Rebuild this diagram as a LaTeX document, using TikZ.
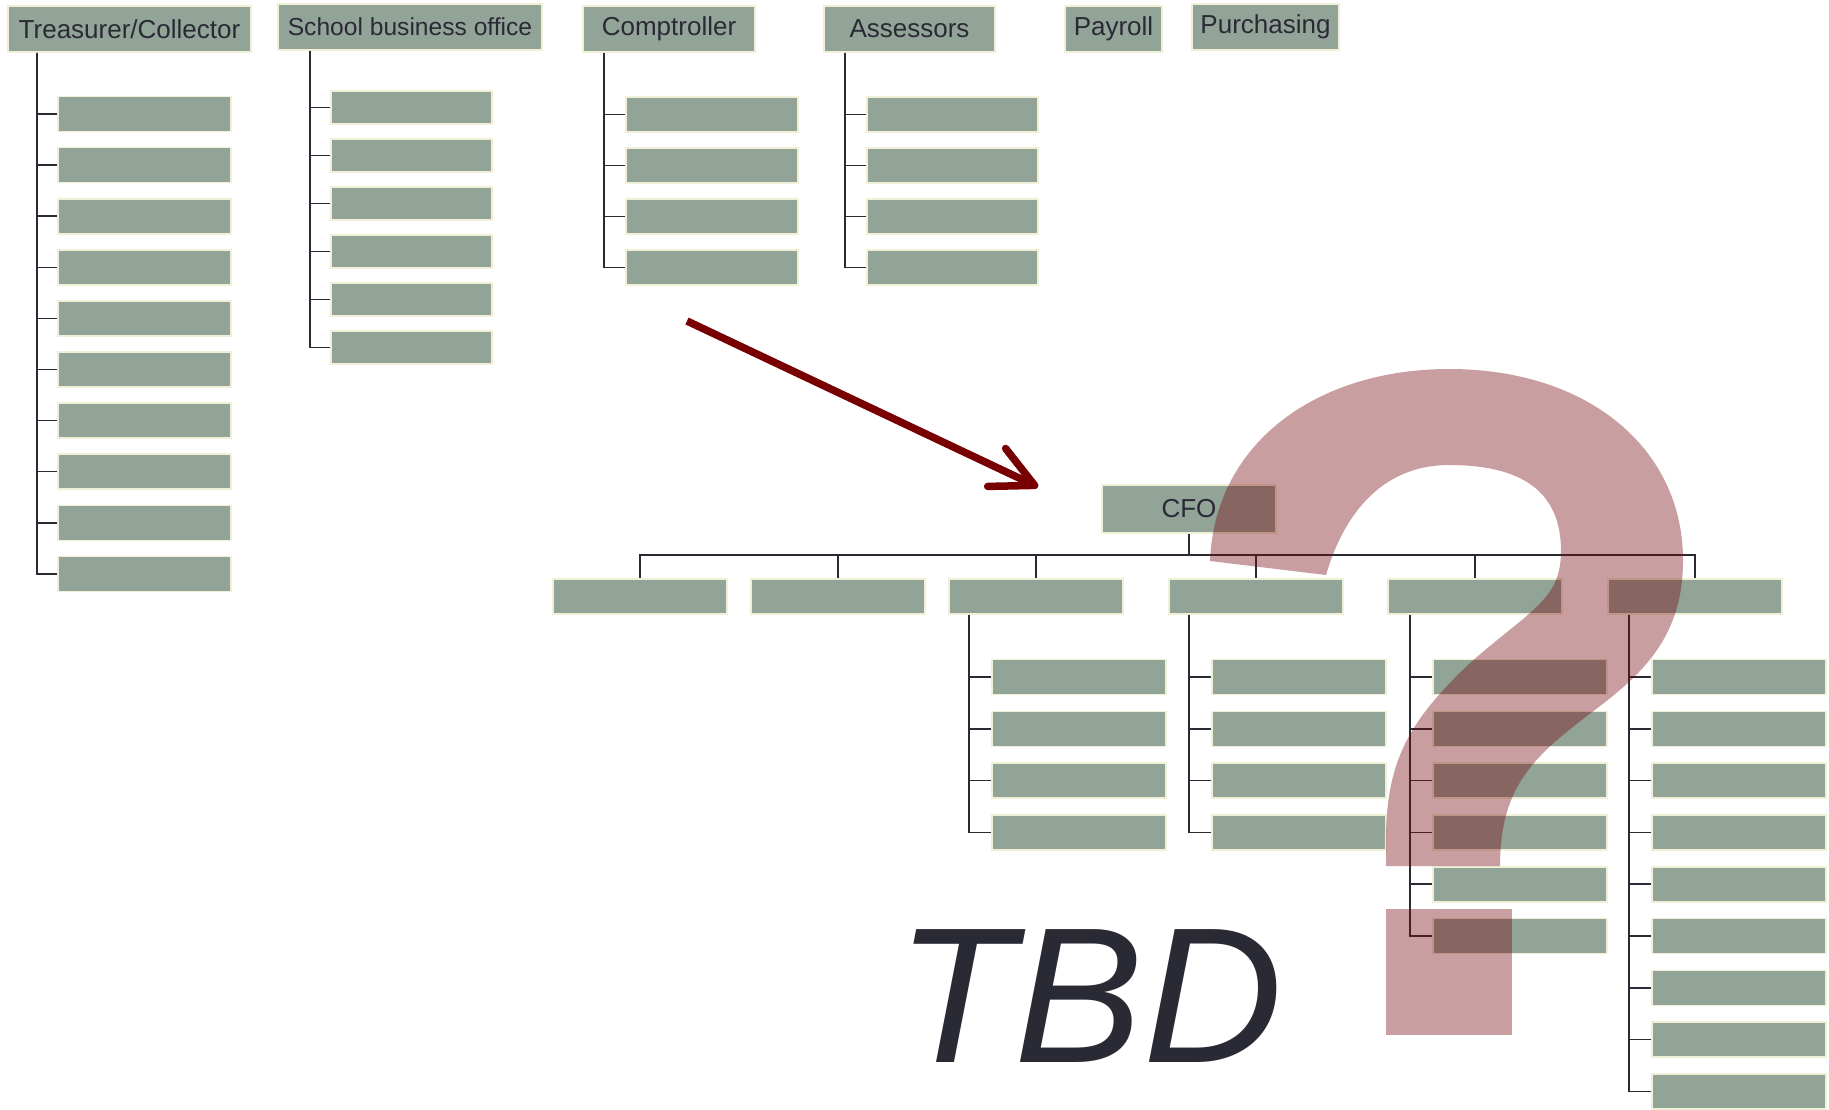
\documentclass[tikz,border=0pt]{standalone}
\usepackage{fontspec}
\setmainfont{Liberation Sans}
\usepackage{tikz}
\usetikzlibrary{arrows.meta}
\definecolor{boxgreen}{RGB}{146,163,152}
\definecolor{boxedge}{RGB}{240,240,214}
\definecolor{inkdark}{RGB}{42,42,53}
\definecolor{arrowred}{RGB}{120,0,0}
\definecolor{quesred}{RGB}{120,12,18}
\tikzstyle{unit} = [rectangle, draw=boxedge, fill=boxgreen, line width=0.8pt,
    text=inkdark, font=\fontsize{13}{15}\selectfont, inner sep=0pt,
    minimum width=87pt, minimum height=17.5pt]
\tikzstyle{head} = [unit, minimum height=23pt]
\tikzstyle{line} = [draw=inkdark, line width=0.75pt]

\begin{document}
\begin{tikzpicture}[x=0.5pt, y=-0.5pt]
    \useasboundingbox (0,0) rectangle (1829,1109);
    % Place nodes
    \node [head, minimum width=121.5pt] (treas) at (129.5,29) {Treasurer/Collector};
    \node [head, minimum width=132pt, font=\fontsize{12.3}{14}\selectfont] (school) at (410,27) {School business office};
    \node [head, minimum width=86pt] (compt) at (669,29) {Comptroller};
    \node [head, minimum width=85.5pt] (assess) at (909.5,29) {Assessors};
    \node [head, minimum width=48.5pt] (payroll) at (1113.5,29) {Payroll};
    \node [head, minimum width=73.5pt] (purch) at (1265.5,27) {Purchasing};
    \node [head, minimum width=87pt, minimum height=24pt] (cfo) at (1189,509) {CFO};

    \coordinate (treasspine) at (37,0);
    \coordinate (schoolspine) at (310,0);
    \coordinate (comptspine) at (604,0);
    \coordinate (assessspine) at (845,0);
    \coordinate (bus) at (1189,555);

    % Draw edges
    \foreach \i in {1,...,10} {
        \node [unit, minimum width=86.5pt] (treas\i) at (144.5,{114+(\i-1)*51.1}) {};
        \path [line] (treasspine |- treas.south) |- (treas\i.west);
    }
    \foreach \i in {1,...,6} {
        \node [unit, minimum width=80.5pt, minimum height=16.5pt] (school\i) at (411.5,{107.3+(\i-1)*48.06}) {};
        \path [line] (schoolspine |- school.south) |- (school\i.west);
    }
    \foreach \i in {1,...,4} {
        \node [unit, minimum width=86pt] (compt\i) at (712,{114.3+(\i-1)*51}) {};
        \path [line] (comptspine |- compt.south) |- (compt\i.west);
        \node [unit, minimum width=85.5pt] (assess\i) at (952.5,{114.3+(\i-1)*51}) {};
        \path [line] (assessspine |- assess.south) |- (assess\i.west);
    }
    \foreach \d/\x in {1/640,2/838,3/1036,4/1256,5/1475,6/1695} {
        \node [unit] (div\d) at (\x,596.5) {};
        \path [line] (cfo.south) -- (bus) -| (div\d.north);
    }
    \foreach \d/\m/\s in {3/4/969,4/4/1189,5/6/1410,6/9/1629} {
        \coordinate (spine\d) at (\s,0);
        \foreach \k in {1,...,\m} {
            \node [unit] (sub\d-\k) at ({\s+110},{677+(\k-1)*51.8}) {};
            \path [line] (spine\d |- div\d.south) |- (sub\d-\k.west);
        }
    }

    \node [text=inkdark, font=\fontsize{96.6}{100}\selectfont\itshape, anchor=base] (tbd) at (1090,1062) {TBD};

    \coordinate (from) at (687,321);
    \coordinate (to) at (1038,487);
    \draw [arrowred, line width=3.75pt, -{Straight Barb[length=21pt, width=21pt, round]}] (from) -- (to);

    % question mark on top
    \fill [quesred, fill opacity=0.4] (1210,561) .. controls (1215,440) and (1320,369) .. (1449,369)
        .. controls (1590,369) and (1683,450) .. (1683,560)
        .. controls (1683,630) and (1650,668) .. (1600,706)
        .. controls (1540,752) and (1500,780) .. (1500,866) -- (1386,866) -- (1386,840)
        .. controls (1386,760) and (1410,720) .. (1470,663)
        .. controls (1530,610) and (1561,600) .. (1561,551)
        .. controls (1561,490) and (1520,465) .. (1449,465)
        .. controls (1385,465) and (1345,510) .. (1326,575) -- cycle;
    \fill [quesred, fill opacity=0.4] (1386,909) rectangle (1512,1035);
\end{tikzpicture}
\end{document}
